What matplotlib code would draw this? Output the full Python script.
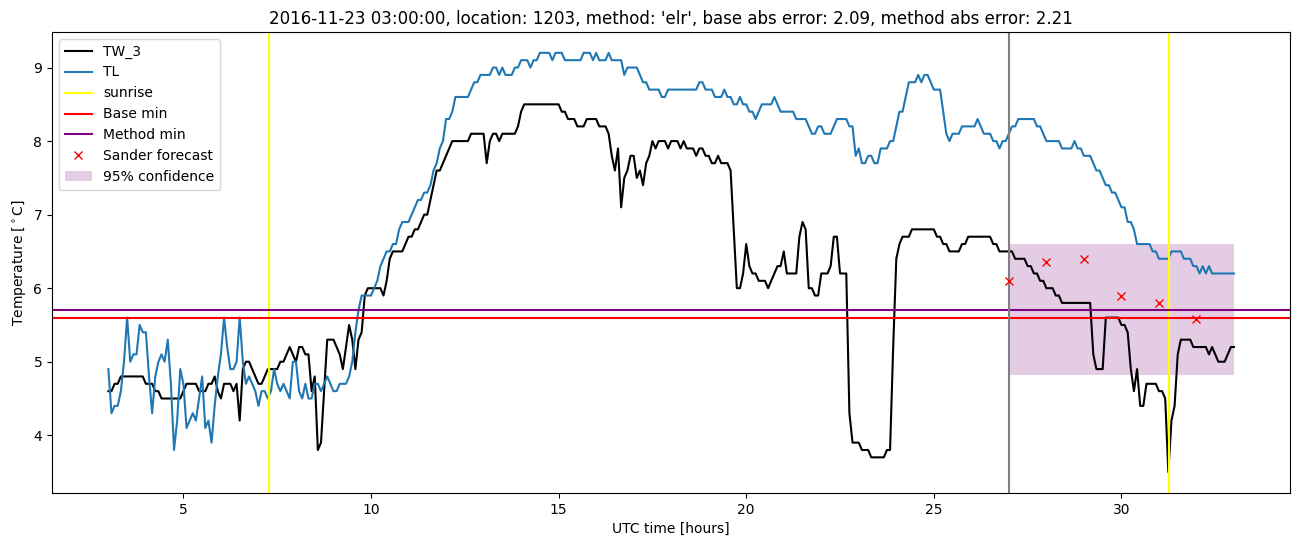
import matplotlib
matplotlib.use("Agg")
import matplotlib.pyplot as plt
import numpy as np

### data, 5 minute steps from 03:00 to 33:00 #################################
TW_3 = [
    4.6,4.6,4.7,4.7,4.8,4.8,4.8,4.8,4.8,4.8,4.8,4.8,   # 3
    4.7,4.7,4.7,4.6,4.6,4.5,4.5,4.5,4.5,4.5,4.5,4.5,   # 4
    4.6,4.7,4.7,4.7,4.7,4.6,4.6,4.6,4.7,4.7,4.8,4.6,   # 5
    4.5,4.7,4.7,4.7,4.6,4.7,4.2,4.9,5.0,5.0,4.9,4.8,   # 6
    4.7,4.7,4.8,4.9,4.9,4.9,4.9,5.0,5.0,5.1,5.2,5.1,   # 7
    5.0,5.2,5.2,5.1,5.1,4.6,4.8,3.8,3.9,4.6,5.3,5.3,   # 8
    5.3,5.2,5.1,4.9,5.2,5.5,5.3,4.9,5.3,5.4,5.9,6.0,   # 9
    6.0,6.0,6.0,6.0,5.9,6.1,6.4,6.5,6.5,6.5,6.5,6.6,   # 10
    6.7,6.7,6.8,6.8,6.9,7.0,7.0,7.2,7.4,7.6,7.6,7.7,   # 11
    7.8,7.9,8.0,8.0,8.0,8.0,8.0,8.0,8.1,8.1,8.1,8.1,   # 12
    8.1,7.7,8.0,8.1,8.1,8.0,8.1,8.1,8.1,8.1,8.1,8.2,   # 13
    8.4,8.5,8.5,8.5,8.5,8.5,8.5,8.5,8.5,8.5,8.5,8.5,   # 14
    8.5,8.4,8.4,8.3,8.3,8.3,8.2,8.2,8.2,8.3,8.3,8.3,   # 15
    8.3,8.2,8.2,8.2,8.1,7.8,7.6,7.9,7.1,7.5,7.6,7.8,   # 16
    7.8,7.5,7.6,7.4,7.7,7.8,8.0,7.9,8.0,8.0,8.0,7.9,   # 17
    8.0,8.0,8.0,7.9,8.0,7.9,7.9,7.9,7.8,7.9,7.9,7.8,   # 18
    7.8,7.7,7.7,7.8,7.7,7.7,7.7,7.6,6.8,6.0,6.0,6.2,   # 19
    6.6,6.3,6.2,6.2,6.1,6.1,6.1,6.0,6.1,6.2,6.3,6.3,   # 20
    6.5,6.2,6.2,6.2,6.2,6.7,6.9,6.8,6.0,6.0,5.9,5.9,   # 21
    6.2,6.2,6.2,6.3,6.7,6.7,6.2,6.2,6.2,4.3,3.9,3.9,   # 22
    3.9,3.8,3.8,3.8,3.7,3.7,3.7,3.7,3.7,3.8,3.8,5.2,   # 23
    6.4,6.6,6.7,6.7,6.7,6.8,6.8,6.8,6.8,6.8,6.8,6.8,   # 24
    6.8,6.7,6.7,6.6,6.6,6.5,6.5,6.5,6.5,6.6,6.6,6.7,   # 25
    6.7,6.7,6.7,6.7,6.7,6.7,6.7,6.6,6.6,6.5,6.5,6.5,   # 26
    6.5,6.5,6.4,6.4,6.4,6.4,6.3,6.3,6.2,6.2,6.1,6.1,   # 27
    6.0,6.0,6.0,5.9,5.9,5.8,5.8,5.8,5.8,5.8,5.8,5.8,   # 28
    5.8,5.8,5.8,5.1,4.9,4.9,4.9,5.6,5.6,5.6,5.6,5.6,   # 29
    5.5,5.5,5.4,4.9,4.6,4.9,4.4,4.4,4.7,4.7,4.7,4.7,   # 30
    4.6,4.6,4.5,3.5,4.2,4.4,5.1,5.3,5.3,5.3,5.3,5.2,   # 31
    5.2,5.2,5.2,5.2,5.1,5.2,5.1,5.0,5.0,5.0,5.1,5.2,   # 32
    5.2]
TL = [
    4.9,4.3,4.4,4.4,4.6,5.0,5.6,5.0,5.1,5.1,5.5,5.4,   # 3
    5.4,4.8,4.3,4.8,5.0,5.1,5.0,5.3,4.7,3.8,4.2,4.9,   # 4
    4.7,4.1,4.2,4.3,4.2,4.5,4.8,4.1,4.2,3.9,4.4,4.8,   # 5
    5.1,5.6,5.2,4.9,4.9,5.0,5.6,5.0,4.7,4.8,4.7,4.6,   # 6
    4.4,4.6,4.6,4.5,4.6,4.9,4.7,4.6,4.7,4.6,4.5,5.0,   # 7
    5.0,4.6,4.5,4.7,4.5,4.5,4.7,4.7,4.6,4.7,4.8,4.7,   # 8
    4.6,4.6,4.7,4.7,4.7,4.8,5.0,5.4,5.7,5.9,5.9,5.9,   # 9
    5.9,6.0,6.1,6.3,6.4,6.5,6.5,6.6,6.6,6.8,6.9,6.9,   # 10
    6.9,7.0,7.1,7.2,7.2,7.3,7.3,7.4,7.6,7.7,7.9,8.0,   # 11
    8.3,8.3,8.4,8.6,8.6,8.6,8.6,8.6,8.7,8.8,8.8,8.9,   # 12
    8.9,8.9,8.9,9.0,9.0,8.9,9.0,8.9,8.9,8.9,9.0,9.0,   # 13
    9.1,9.1,9.1,9.0,9.1,9.1,9.2,9.2,9.2,9.2,9.1,9.2,   # 14
    9.2,9.2,9.1,9.1,9.1,9.1,9.1,9.1,9.2,9.2,9.2,9.1,   # 15
    9.2,9.1,9.1,9.1,9.2,9.1,9.1,9.1,9.1,8.9,9.0,9.0,   # 16
    9.0,9.0,8.9,8.8,8.8,8.7,8.7,8.7,8.7,8.6,8.6,8.7,   # 17
    8.7,8.7,8.7,8.7,8.7,8.7,8.7,8.7,8.7,8.8,8.8,8.7,   # 18
    8.7,8.7,8.6,8.6,8.6,8.7,8.6,8.6,8.5,8.5,8.6,8.5,   # 19
    8.5,8.4,8.4,8.3,8.4,8.5,8.5,8.5,8.5,8.6,8.5,8.4,   # 20
    8.4,8.4,8.4,8.4,8.3,8.3,8.3,8.3,8.2,8.1,8.1,8.2,   # 21
    8.2,8.1,8.1,8.1,8.2,8.3,8.3,8.3,8.3,8.2,8.2,7.8,   # 22
    7.9,7.7,7.7,7.8,7.8,7.7,7.7,7.9,7.9,7.9,8.0,8.0,   # 23
    8.2,8.4,8.4,8.6,8.8,8.8,8.8,8.9,8.8,8.9,8.9,8.8,   # 24
    8.7,8.7,8.7,8.4,8.1,8.0,8.1,8.1,8.1,8.2,8.2,8.2,   # 25
    8.2,8.2,8.3,8.2,8.1,8.1,8.1,8.0,8.0,7.9,8.0,8.0,   # 26
    8.1,8.2,8.2,8.3,8.3,8.3,8.3,8.3,8.3,8.2,8.2,8.1,   # 27
    8.0,8.0,8.0,8.0,8.0,7.9,7.9,7.9,7.9,8.0,7.9,7.9,   # 28
    7.8,7.8,7.8,7.7,7.6,7.6,7.5,7.4,7.4,7.3,7.3,7.2,   # 29
    7.1,7.1,6.9,6.9,6.8,6.6,6.6,6.6,6.6,6.6,6.5,6.5,   # 30
    6.4,6.4,6.4,6.4,6.5,6.5,6.5,6.5,6.4,6.4,6.4,6.3,   # 31
    6.3,6.2,6.3,6.2,6.3,6.2,6.2,6.2,6.2,6.2,6.2,6.2,   # 32
    6.2]
t_hours = 3 + np.arange(len(TW_3)) / 12.0

sunrise = [7.27, 31.27]
forecast_time = 27
base_min = 5.59
method_min = 5.71
sander_t = [27, 28, 29, 30, 31, 32]
sander_T = [6.1, 6.35, 6.4, 5.9, 5.8, 5.58]
conf_t = [27, 33]
conf_lo = 4.82
conf_hi = 6.6

### plot #####################################################################
fig = plt.figure(figsize=(13.02, 5.47), dpi=100)
ax = fig.add_axes([0.040, 0.0987, 0.951, 0.843])

ax.plot(t_hours, TW_3, c='black', label='TW_3')
ax.plot(t_hours, TL, c='tab:blue', label='TL')
ax.axvline(sunrise[0], c='yellow', label='sunrise')
ax.axvline(sunrise[1], c='yellow')
ax.axhline(base_min, c='red', label='Base min')
ax.axhline(method_min, c='purple', label='Method min')
ax.axvline(forecast_time, c='gray')
ax.plot(sander_t, sander_T, 'x', c='red', label='Sander forecast')
ax.fill_between(conf_t, conf_lo, conf_hi, color='purple', alpha=0.2,
                linewidth=0, label='95% confidence')

ax.set_title("2016-11-23 03:00:00, location: 1203, method: 'elr', "
             "base abs error: 2.09, method abs error: 2.21")
ax.set_xlabel("UTC time [hours]")
ax.set_ylabel(r"Temperature [$^\circ$C]")
ax.legend(loc='upper left')

fig.savefig("out.png", dpi=100)
